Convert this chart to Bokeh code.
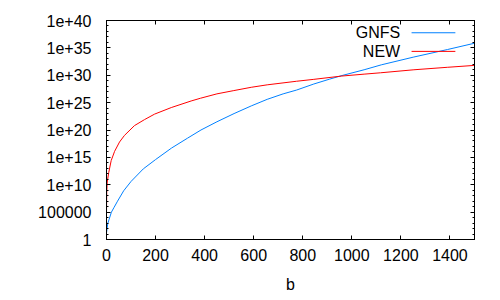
from bokeh.plotting import figure
from bokeh.models import (Range1d, FixedTicker, LogAxis, LinearAxis, CustomJSTickFormatter,
                          Label, Arrow)
from bokeh.embed import file_html
from bokeh.resources import INLINE
import numpy as np

# ---- data (y values stored as log10) ----
gnfs_b = [0, 5, 10, 20, 30, 45, 70, 100, 150, 200, 265, 330, 385, 450, 520, 590,
          655, 720, 775, 845, 910, 960, 1050, 1120, 1250, 1390, 1500]
gnfs_log10 = [1.2, 2.9, 3.6, 5.0, 5.8, 7.0, 8.9, 10.6, 12.9, 14.6, 16.7, 18.5, 20.0, 21.5,
              23.0, 24.4, 25.6, 26.6, 27.3, 28.4, 29.3, 29.95, 31.0, 31.9, 33.3, 34.7, 35.85]

new_b = [0, 1, 3, 9, 19, 33, 53, 73, 114, 155, 196, 264, 345, 383, 450, 519, 590,
         655, 774, 845, 958, 1050, 1117, 1253, 1389, 1500]
new_log10 = [5.0, 8.6, 10.5, 12.2, 14.4, 16.1, 17.8, 19.0, 20.8, 21.9, 22.9, 24.1, 25.3,
             25.8, 26.6, 27.2, 27.8, 28.25, 28.9, 29.25, 29.85, 30.2, 30.45, 31.0, 31.45, 31.8]

series_names = ["GNFS", "NEW"]
series_colors = ["#0080ff", "#ff0000"]
x_ticks = [0, 200, 400, 600, 800, 1000, 1200, 1400]
y_ticks = [1e0, 1e5, 1e10, 1e15, 1e20, 1e25, 1e30, 1e35, 1e40]
y_tick_labels = ["1", "100000", "1e+10", "1e+15", "1e+20", "1e+25", "1e+30", "1e+35", "1e+40"]
y_minor = [10.0 ** k for k in range(0, 41)]
x_label = "b"

FONT = "Liberation Sans"
FS = "16px"

X0, X1 = 0, 1500
Y0, Y1 = 1, 1e40

p = figure(width=500, height=300, output_backend="svg", toolbar_location=None,
           y_axis_type="log", x_range=Range1d(X0, X1), y_range=Range1d(Y0, Y1),
           min_border_left=106, min_border_right=26, min_border_top=20, min_border_bottom=61)
p.grid.visible = False
p.outline_line_color = "black"
p.outline_line_width = 1
p.background_fill_color = "white"
p.border_fill_color = "white"

gy = 10.0 ** np.array(gnfs_log10)
ny = 10.0 ** np.array(new_log10)
r1 = p.line(gnfs_b, gy, line_color=series_colors[0], line_width=1)
r2 = p.line(new_b, ny, line_color=series_colors[1], line_width=1)

# axes
xt = FixedTicker(ticks=x_ticks, minor_ticks=[])
yt = FixedTicker(ticks=y_ticks, minor_ticks=y_minor)

xa = p.xaxis[0]
xa.ticker = xt
xa.axis_label = x_label
ya = p.yaxis[0]
ya.ticker = yt
ya.formatter = CustomJSTickFormatter(args=dict(labels=y_tick_labels),
                                     code="const i = Math.round(Math.log10(tick)/5); return labels[i];")

for ax in (xa, ya):
    ax.axis_line_color = "black"
    ax.major_tick_line_color = "black"
    ax.minor_tick_line_color = "black"
    ax.major_tick_in = 4
    ax.major_tick_out = 0
    ax.minor_tick_in = 2
    ax.minor_tick_out = 0
    ax.major_label_text_font = FONT
    ax.major_label_text_font_size = FS
    ax.major_label_text_color = "black"
    ax.axis_label_text_font = FONT
    ax.axis_label_text_font_size = FS
    ax.axis_label_text_font_style = "normal"
    ax.axis_label_text_color = "black"

xa.major_label_standoff = 9
xa.axis_label_standoff = 12
ya.major_label_standoff = 15

# mirrored tick axes (no labels)
blank = CustomJSTickFormatter(code="return '';")
top = LinearAxis(ticker=xt, formatter=blank)
right = LogAxis(ticker=yt, formatter=blank)
for ax in (top, right):
    ax.axis_line_color = "black"
    ax.major_tick_line_color = "black"
    ax.minor_tick_line_color = "black"
    ax.major_tick_in = 4
    ax.major_tick_out = 0
    ax.minor_tick_in = 2
    ax.minor_tick_out = 0
    ax.major_label_text_font_size = "8px"
    ax.major_label_standoff = 0
p.add_layout(top, "above")
p.add_layout(right, "right")

# key (text left of the sample line, as in gnuplot), placed by fractions of the frame
def fx(f):
    return X0 + f * (X1 - X0)

def fy(f):
    return 10 ** (np.log10(Y0) + f * (np.log10(Y1) - np.log10(Y0)))

key_text_fx = 0.798
key_line_fx = (0.829, 0.948)
key_rows_fy = [0.944, 0.859]
for name, col, ry in zip(series_names, series_colors, key_rows_fy):
    p.add_layout(Label(x=fx(key_text_fx), y=fy(ry), text=name, text_align="right",
                       text_baseline="middle", text_font=FONT, text_font_size=FS,
                       text_color="black"))
    p.add_layout(Arrow(end=None, x_start=fx(key_line_fx[0]), y_start=fy(ry),
                       x_end=fx(key_line_fx[1]), y_end=fy(ry),
                       line_color=col, line_width=1))

open("out.html", "w").write(file_html(p, INLINE))
